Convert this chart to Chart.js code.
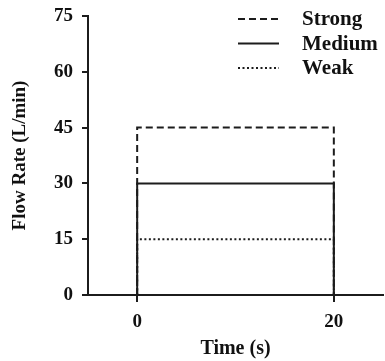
<!DOCTYPE html>
<html>
<head>
<meta charset="utf-8">
<script src="https://cdn.jsdelivr.net/npm/chart.js@4"></script>
<style>
  html, body { margin: 0; padding: 0; background: #fff; }
  #wrap { width: 385px; height: 361px; position: relative; }
</style>
</head>
<body>
<div id="wrap"><canvas id="flowChart"></canvas></div>
<script>
// pulse data: time (s) vs flow rate (L/min)
var times = [0, 0, 20, 20];
var strong = [0, 45, 45, 0];
var medium = [0, 30, 30, 0];
var weak = [0, 15, 15, 0];
var seriesNames = ['Strong', 'Medium', 'Weak'];
var yTicks = [0, 15, 30, 45, 60, 75];
var xTicks = [0, 20];

var ink = '#1c1c1c';
var serif = "'Liberation Serif', 'Times New Roman', serif";

function pts(vals) {
  return vals.map(function(v, i) { return { x: times[i], y: v }; });
}

// little legend in the top right, drawn from the datasets
var cornerLegend = {
  id: 'cornerLegend',
  afterDraw: function(chart) {
    var ctx = chart.ctx;
    ctx.save();
    ctx.font = 'bold 21px ' + serif;
    ctx.textBaseline = 'middle';
    ctx.fillStyle = '#111';
    chart.data.datasets.forEach(function(ds, i) {
      var y = 19 + i * 24.5;
      ctx.beginPath();
      ctx.setLineDash(ds.borderDash || []);
      ctx.lineWidth = ds.borderWidth;
      ctx.strokeStyle = ds.borderColor;
      ctx.moveTo(238, y);
      ctx.lineTo(279, y);
      ctx.stroke();
      ctx.setLineDash([]);
      ctx.fillText(ds.label, 302, y + 1);
    });
    ctx.restore();
  }
};

var data = {
  datasets: [
    { label: seriesNames[0], data: pts(strong), borderDash: [7, 4] },
    { label: seriesNames[1], data: pts(medium), borderDash: [] },
    { label: seriesNames[2], data: pts(weak), borderDash: [2, 2.5] }
  ].map(function(ds) {
    ds.showLine = true;
    ds.borderColor = ink;
    ds.borderWidth = 2;
    ds.pointRadius = 0;
    ds.tension = 0;
    return ds;
  })
};

var options = {
  responsive: true,
  maintainAspectRatio: false,
  animation: false,
  layout: { padding: { top: 16, right: 2, left: 0, bottom: 0 } },
  plugins: { legend: { display: false }, tooltip: { enabled: false } },
  scales: {
    x: {
      type: 'linear',
      min: -5,
      max: 25,
      afterBuildTicks: function(scale) {
        scale.ticks = xTicks.map(function(v) { return { value: v }; });
      },
      afterFit: function(scale) { scale.height = 66; },
      grid: { drawOnChartArea: false, drawTicks: true, tickLength: 7, color: ink, lineWidth: 2 },
      border: { display: true, color: ink, width: 2 },
      ticks: { color: '#111', padding: 9, font: { family: serif, weight: 'bold', size: 19 } },
      title: { display: true, text: 'Time (s)', color: '#111', padding: { top: 0, bottom: 0 }, font: { family: serif, weight: 'bold', size: 20 } }
    },
    y: {
      min: 0,
      max: 75,
      afterBuildTicks: function(scale) {
        scale.ticks = yTicks.map(function(v) { return { value: v }; });
      },
      afterFit: function(scale) {
        scale.width = 88;
        scale.paddingTop = 0;
        scale.paddingBottom = 0;
      },
      grid: { drawOnChartArea: false, drawTicks: true, tickLength: 6, color: ink, lineWidth: 2 },
      border: { display: true, color: ink, width: 2 },
      ticks: { color: '#111', padding: 9, font: { family: serif, weight: 'bold', size: 19 } },
      title: { display: true, text: 'Flow Rate (L/min)', color: '#111', padding: { top: 9, bottom: 0 }, font: { family: serif, weight: 'bold', size: 19 } }
    }
  }
};

var ctx = document.getElementById('flowChart').getContext('2d');
new Chart(ctx, { type: 'scatter', data: data, options: options, plugins: [cornerLegend] });
</script>
</body>
</html>
